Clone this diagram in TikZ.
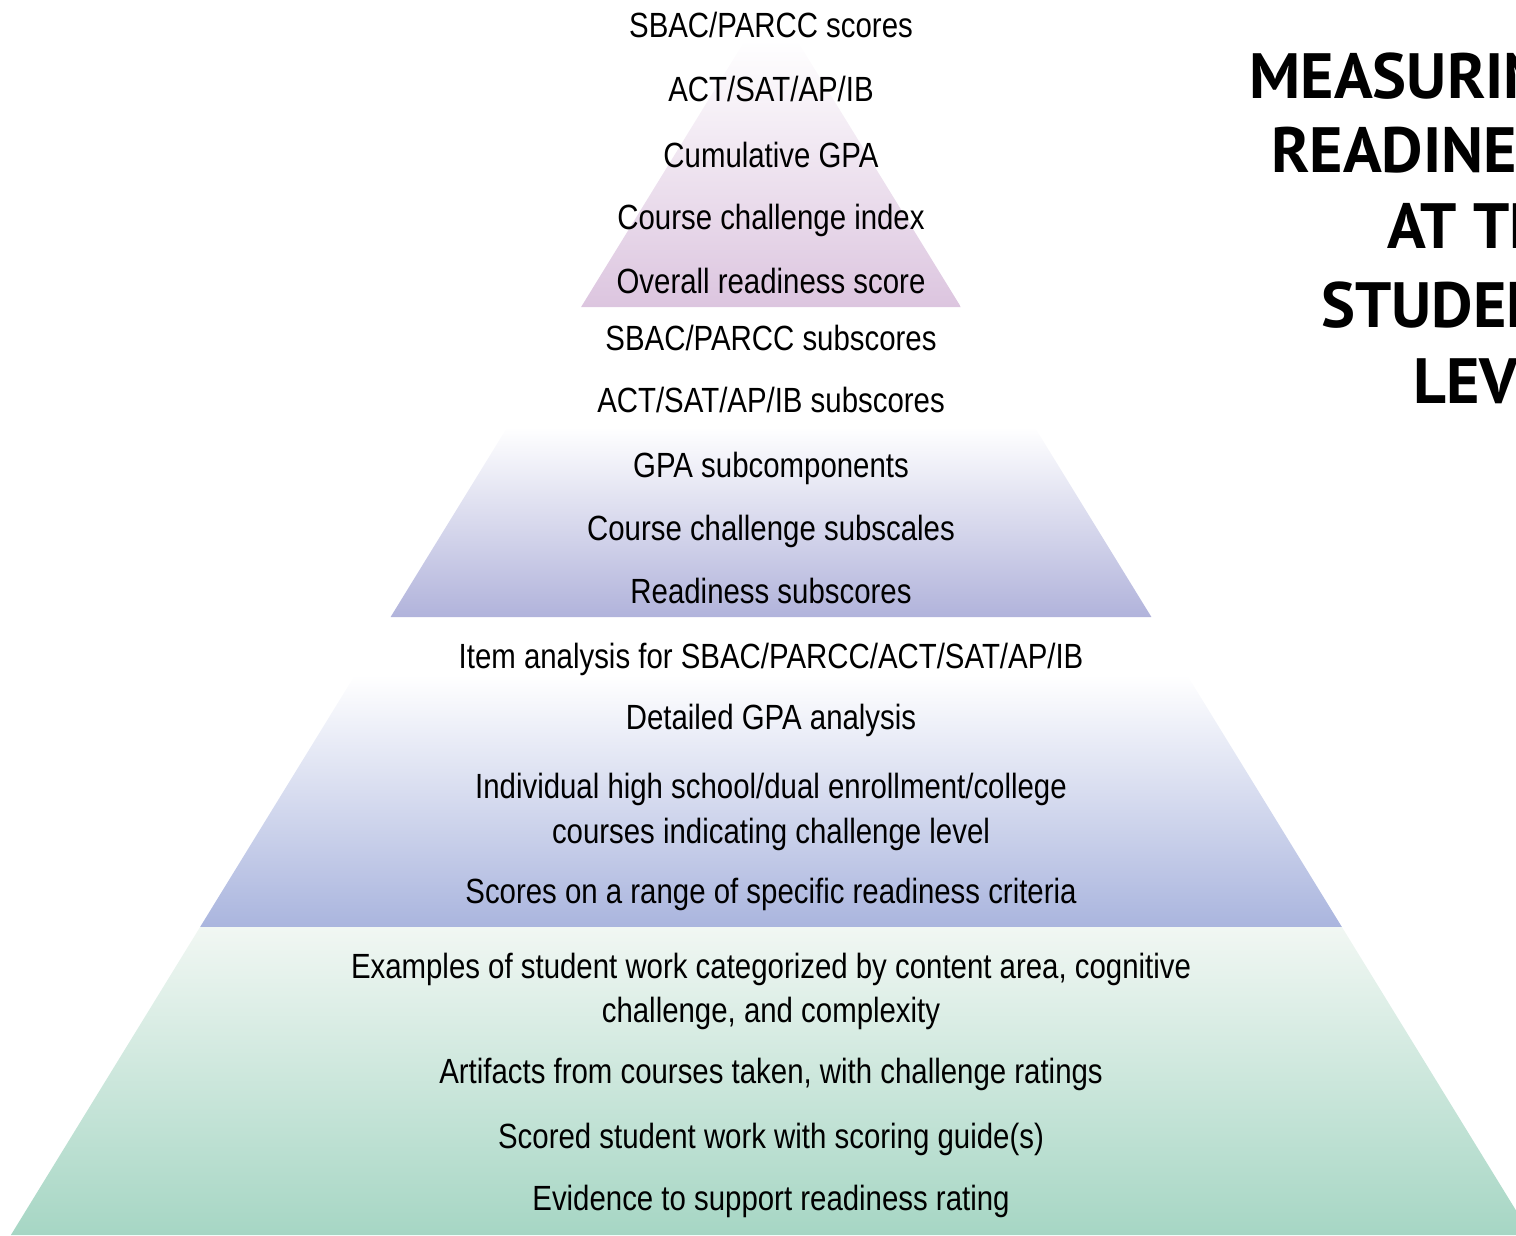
\documentclass[tikz,border=0pt]{standalone}
\usepackage{fontspec}
\newfontfamily\condfont[FakeStretch=0.84]{Liberation Sans}
\newfontfamily\titlefont{PT Sans}
\definecolor{topband}{HTML}{DCC5DF}
\definecolor{midband}{HTML}{B1B3DB}
\definecolor{lowband}{HTML}{AAB5DE}
\definecolor{baseband}{HTML}{A6D6C4}
\definecolor{basetop}{HTML}{F1F7F3}
\tikzset{
  lbl/.style={font=\condfont\fontsize{35}{42}\selectfont, anchor=base, inner sep=0pt},
  ttl/.style={font=\titlefont\bfseries\fontsize{64}{76}\selectfont, anchor=base east, inner sep=0pt},
}
\begin{document}
\begin{tikzpicture}[x=1pt,y=-1pt]
\useasboundingbox (0,0) rectangle (1516,1235);
\clip (0,0) rectangle (1516,1235);

% pyramid tiers (apex near (771,-2), slope 0.6145 half-width per unit height)
\shade[top color=white, bottom color=topband]
  (745.2,40) -- (796.8,40) -- (960.9,307) -- (581.1,307) -- cycle;
\shade[top color=white, bottom color=midband]
  (507.4,427) -- (1034.6,427) -- (1151.4,617) -- (390.6,617) -- cycle;
\shade[top color=white, bottom color=lowband]
  (355,675) -- (1187,675) -- (1341.9,927) -- (200.1,927) -- cycle;
\shade[top color=basetop, bottom color=baseband]
  (200.1,927) -- (1341.9,927) -- (1531.1,1235) -- (10.9,1235) -- cycle;

% tier 1
\node[lbl] (a1) at (771,37) {SBAC/PARCC scores};
\node[lbl] (a2) at (771,101) {ACT/SAT/AP/IB};
\node[lbl] (a3) at (771,167) {Cumulative GPA};
\node[lbl] (a4) at (771,229) {Course challenge index};
\node[lbl] (a5) at (771,293) {Overall readiness score};
% tier 2
\node[lbl] (b1) at (771,350) {SBAC/PARCC subscores};
\node[lbl] (b2) at (771,412) {ACT/SAT/AP/IB subscores};
\node[lbl] (b3) at (771,477) {GPA subcomponents};
\node[lbl] (b4) at (771,540) {Course challenge subscales};
\node[lbl] (b5) at (771,603) {Readiness subscores};
% tier 3
\node[lbl] (c1) at (771,668) {Item analysis for SBAC/PARCC/ACT/SAT/AP/IB};
\node[lbl] (c2) at (771,729) {Detailed GPA analysis};
\node[lbl] (c3) at (771,798) {Individual high school/dual enrollment/college};
\node[lbl] (c3b) at (771,843) {courses indicating challenge level};
\node[lbl] (c4) at (771,903) {Scores on a range of specific readiness criteria};
% tier 4
\node[lbl] (d1) at (771,978) {Examples of student work categorized by content area, cognitive};
\node[lbl] (d1b) at (771,1022) {challenge, and complexity};
\node[lbl] (d2) at (771,1083) {Artifacts from courses taken, with challenge ratings};
\node[lbl] (d3) at (771,1148) {Scored student work with scoring guide(s)};
\node[lbl] (d4) at (771,1210) {Evidence to support readiness rating};

% title
\node[ttl] (t1) at (1585,98) {MEASURING};
\node[ttl] (t2) at (1585,172) {READINESS};
\node[ttl] (t3) at (1585,248) {AT THE};
\node[ttl] (t4) at (1585,327) {STUDENT};
\node[ttl] (t5) at (1585,403) {LEVEL};
\end{tikzpicture}
\end{document}
